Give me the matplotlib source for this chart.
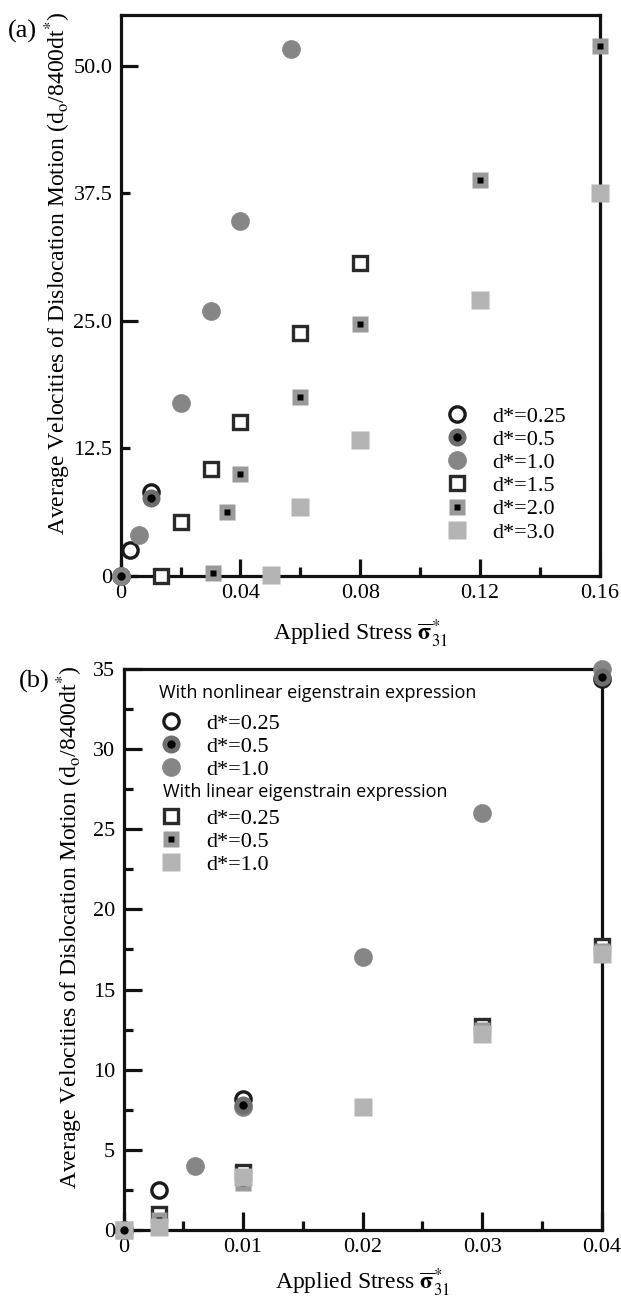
import matplotlib
matplotlib.use('Agg')
import matplotlib.pyplot as plt
from matplotlib.lines import Line2D

plt.rcParams['font.family'] = ['Liberation Serif', 'DejaVu Serif']
plt.rcParams['mathtext.fontset'] = 'stix'

# ---- panel (a): velocity vs applied stress for several d* ----
a_x_025 = [0.0, 0.003, 0.01]
a_y_025 = [0.0, 2.5, 8.2]
a_x_05 = [0.0, 0.01]
a_y_05 = [0.0, 7.6]
a_x_10 = [0.0, 0.006, 0.02, 0.03, 0.04, 0.057]
a_y_10 = [0.0, 4.0, 17.0, 26.0, 34.8, 51.7]
a_x_15 = [0.0133, 0.02, 0.03, 0.04, 0.06, 0.08]
a_y_15 = [0.0, 5.3, 10.5, 15.1, 23.8, 30.7]
a_x_20 = [0.0308, 0.0355, 0.04, 0.06, 0.08, 0.12, 0.16]
a_y_20 = [0.3, 6.3, 10.0, 17.5, 24.7, 38.8, 52.0]
a_x_30 = [0.0503, 0.06, 0.08, 0.12, 0.16]
a_y_30 = [0.1, 6.8, 13.3, 27.1, 37.5]

# ---- panel (b): nonlinear vs linear eigenstrain expression ----
nl_x_025 = [0.0, 0.003, 0.01, 0.04]
nl_y_025 = [0.0, 2.5, 8.2, 34.4]
nl_x_05 = [0.0, 0.01, 0.04]
nl_y_05 = [0.0, 7.8, 34.5]
nl_x_10 = [0.006, 0.01, 0.02, 0.03, 0.04]
nl_y_10 = [4.0, 7.7, 17.0, 26.0, 35.0]
li_x_025 = [0.0, 0.003, 0.01, 0.03, 0.04]
li_y_025 = [0.0, 1.0, 3.6, 12.7, 17.7]
li_x_05 = [0.0, 0.003, 0.01, 0.03, 0.04]
li_y_05 = [0.0, 0.6, 2.9, 12.5, 17.4]
li_x_10 = [0.0, 0.003, 0.01, 0.02, 0.03, 0.04]
li_y_10 = [0.0, 0.2, 3.3, 7.7, 12.2, 17.2]

labels_a = ['d*=0.25', 'd*=0.5', 'd*=1.0', 'd*=1.5', 'd*=2.0', 'd*=3.0']
labels_b = ['d*=0.25', 'd*=0.5', 'd*=1.0']
head_nl = 'With nonlinear eigenstrain expression'
head_li = 'With linear eigenstrain expression'

DARK = '#1a1a1a'
G05 = '#6e6e6e'
G10 = '#868686'
G20 = '#9a9a9a'
G30 = '#b4b4b4'

# marker styles (kwargs for ax.plot)
open_circ = dict(marker='o', ms=11, mfc='white', mec=DARK, mew=2.4, ls='none')
gray_circ = dict(marker='o', ms=13, mfc=G05, mec='none', ls='none')
dot_circ = dict(marker='o', ms=6, mfc='black', mec='none', ls='none')
big_circ = dict(marker='o', ms=13.5, mfc=G10, mec='none', ls='none')
open_sq = dict(marker='s', ms=10, mfc='white', mec='#2a2a2a', mew=2.4, ls='none')
gray_sq = dict(marker='s', ms=12, mfc=G20, mec='none', ls='none')
dot_sq = dict(marker='s', ms=5, mfc='black', mec='none', ls='none')
light_sq = dict(marker='s', ms=12.5, mfc=G30, mec='none', ls='none')

ylab = r'Average Velocities of Dislocation Motion (d$_\mathrm{o}$/8400dt$^{*}$)'
xlab = r'Applied Stress $\overline{\mathbf{\sigma}}^{*}_{31}$'


def pts(ax, x, y, style, z):
    ax.plot(x, y, clip_on=False, zorder=z, **style)


def handle(*styles):
    hs = tuple(Line2D([], [], **s) for s in styles)
    return hs if len(hs) > 1 else hs[0]


def style_axes(ax):
    for s in ax.spines.values():
        s.set_linewidth(2.3)
        s.set_color('#111111')
    ax.tick_params(which='both', direction='in', width=2.3, color='#111111',
                   labelsize=16, top=False, right=False, pad=6)
    ax.tick_params(which='major', length=12.5)
    ax.tick_params(which='minor', length=6.5)


def legend(ax, hands, labels, anchor):
    return ax.legend(hands, labels, loc='upper left', bbox_to_anchor=anchor,
                     frameon=False, fontsize=16, labelspacing=0.12,
                     handlelength=1.0, handletextpad=1.1, borderpad=0,
                     borderaxespad=0)


fig = plt.figure(figsize=(6.21, 13.01), dpi=100)

# ================= (a) =================
ax = fig.add_axes([0.1944, 0.5573, 0.7712, 0.4312])
pts(ax, a_x_15, a_y_15, open_sq, 4)
pts(ax, a_x_20, a_y_20, gray_sq, 5)
pts(ax, a_x_20, a_y_20, dot_sq, 6)
pts(ax, a_x_30, a_y_30, light_sq, 5)
pts(ax, a_x_025, a_y_025, open_circ, 4)
pts(ax, a_x_05, a_y_05, gray_circ, 5)
pts(ax, a_x_05, a_y_05, dot_circ, 6)
pts(ax, a_x_10, a_y_10, big_circ, 5)

ax.set_xlim(0, 0.16)
ax.set_ylim(0, 55)
ax.set_xticks([0, 0.04, 0.08, 0.12, 0.16], ['0', '0.04', '0.08', '0.12', '0.16'])
ax.set_xticks([0.02, 0.06, 0.10, 0.14], minor=True)
ax.set_yticks([0, 25, 50], ['0', '25.0', '50.0'])
ax.set_yticks([12.5, 37.5], ['12.5', '37.5'], minor=True)
style_axes(ax)

ax.set_xlabel(xlab, fontsize=17)
ax.xaxis.set_label_coords(0.5, -0.075)
ax.set_ylabel(ylab, fontsize=17)
ax.yaxis.set_label_coords(-0.1, 0.54)
fig.text(0.012, 0.985, '(a)', fontsize=19, va='top')

hand_a = [handle(open_circ), handle(gray_circ, dot_circ), handle(big_circ),
          handle(open_sq), handle(gray_sq, dot_sq), handle(light_sq)]
legend(ax, hand_a, labels_a, (0.678, 0.303))

# ================= (b) =================
bx = fig.add_axes([0.1989, 0.0546, 0.7699, 0.4312])
pts(bx, li_x_025, li_y_025, open_sq, 4)
pts(bx, li_x_05, li_y_05, gray_sq, 5)
pts(bx, li_x_05, li_y_05, dot_sq, 6)
pts(bx, li_x_10, li_y_10, light_sq, 7)
pts(bx, nl_x_10, nl_y_10, big_circ, 4)
pts(bx, nl_x_025, nl_y_025, open_circ, 5)
pts(bx, nl_x_05, nl_y_05, gray_circ, 6)
pts(bx, nl_x_05, nl_y_05, dot_circ, 7)

bx.set_xlim(0, 0.04)
bx.set_ylim(0, 35)
bx.set_xticks([0, 0.01, 0.02, 0.03, 0.04], ['0', '0.01', '0.02', '0.03', '0.04'])
bx.set_xticks([0.005, 0.015, 0.025, 0.035], minor=True)
bx.set_yticks(range(0, 36, 5))
bx.set_yticks([2.5, 7.5, 12.5, 17.5, 22.5, 27.5, 32.5], minor=True)
style_axes(bx)
bx.tick_params(which='major', length=13)

bx.set_xlabel(xlab, fontsize=17)
bx.xaxis.set_label_coords(0.5, -0.066)
bx.set_ylabel(ylab, fontsize=17)
bx.yaxis.set_label_coords(-0.08, 0.54)
fig.text(0.03, 0.485, '(b)', fontsize=19, va='top')

sans = {'family': 'Open Sans', 'size': 13}
bx.text(0.0743, 0.957, head_nl, transform=bx.transAxes, va='center', fontdict=sans)
bx.text(0.0826, 0.781, head_li, transform=bx.transAxes, va='center', fontdict=sans)
hand_nl = [handle(open_circ), handle(gray_circ, dot_circ), handle(big_circ)]
hand_li = [handle(open_sq), handle(gray_sq, dot_sq), handle(light_sq)]
leg1 = legend(bx, hand_nl, labels_b, (0.0763, 0.9216))
bx.add_artist(leg1)
legend(bx, hand_li, labels_b, (0.0763, 0.752))

fig.savefig('out.png', dpi=100)
